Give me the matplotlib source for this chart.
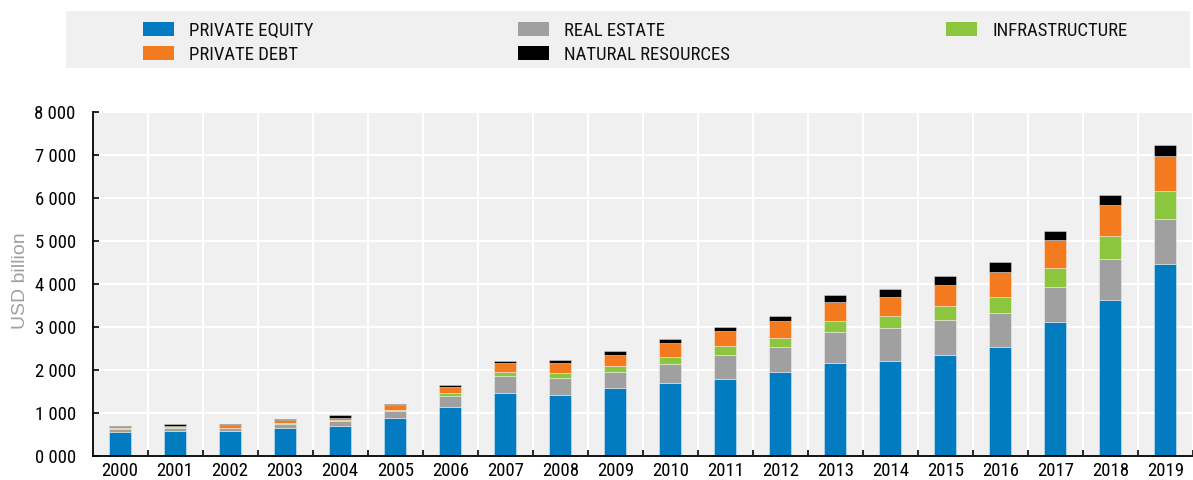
import matplotlib
matplotlib.use("Agg")
import matplotlib.pyplot as plt
from matplotlib import font_manager
from matplotlib.patches import Rectangle
import numpy as np

years = [str(y) for y in range(2000, 2020)]
private_equity = [561, 577, 577, 647, 693, 879, 1142, 1460, 1413, 1576, 1700, 1785, 1947, 2168, 2214, 2354, 2540, 3120, 3631, 4468]
real_estate = [70, 77, 72, 100, 116, 170, 263, 402, 395, 379, 441, 565, 589, 705, 752, 805, 789, 821, 953, 1053]
infrastructure = [12, 10, 8, 15, 23, 23, 55, 101, 116, 139, 170, 209, 217, 271, 286, 318, 380, 442, 526, 635]
private_debt = [30, 45, 70, 78, 62, 109, 147, 201, 232, 264, 318, 341, 387, 441, 449, 511, 573, 634, 736, 828]
natural_resources = [25, 30, 12, 16, 55, 23, 46, 54, 86, 77, 93, 108, 124, 163, 178, 193, 224, 217, 224, 240]

series_names = ["PRIVATE EQUITY", "REAL ESTATE", "INFRASTRUCTURE", "PRIVATE DEBT", "NATURAL RESOURCES"]
series_values = [private_equity, real_estate, infrastructure, private_debt, natural_resources]
series_colors = ["#037bc1", "#a0a0a0", "#8cc63f", "#f47a20", "#000000"]
ytick_values = [0, 1000, 2000, 3000, 4000, 5000, 6000, 7000, 8000]
ytick_labels = ["0 000", "1 000", "2 000", "3 000", "4 000", "5 000", "6 000", "7 000", "8 000"]

names = {f.name for f in font_manager.fontManager.ttflist}
narrow_fams = [n for n in ["Liberation Sans Narrow", "Roboto Condensed", "Arimo", "Liberation Sans"] if n in names]
narrow_fams.append("DejaVu Sans")
fs = 13.5 if narrow_fams[0] != "Liberation Sans" else 11.5
plt.rcParams["font.family"] = narrow_fams

W, H = 1193, 480
fig = plt.figure(figsize=(W / 100, H / 100), dpi=100)
fig.patch.set_facecolor("white")

ax = fig.add_axes([92.5 / W, 1 - 456 / H, 1 - 92.5 / W, 344 / H])
ax.set_facecolor("#f0f0f0")

x = np.arange(len(years))
bottom = np.zeros(len(years))
for name, vals, col in zip(series_names, series_values, series_colors):
    v = np.array(vals, dtype=float)
    ax.bar(x, v, width=0.4, bottom=bottom, color=col, edgecolor=(1, 1, 1, 0.45),
           linewidth=0.6, zorder=3)
    bottom += v

ax.set_xlim(-0.5, 19.3)
ax.set_ylim(0, 8000)
ax.set_xticks(x)
ax.set_xticklabels(years, fontsize=fs)
ax.set_xticks(np.arange(len(years)) + 0.5, minor=True)
ax.set_yticks(ytick_values)
ax.set_yticklabels(ytick_labels, fontsize=fs)
ax.tick_params(axis="x", which="major", length=0, pad=4)
ax.tick_params(axis="x", which="minor", direction="in", length=4, width=1.2, color="black")
ax.tick_params(axis="y", direction="in", length=4, width=1.2, color="black", pad=12)
ax.grid(True, axis="y", which="major", color="white", linewidth=1.5, zorder=0)
ax.grid(True, axis="x", which="minor", color="white", linewidth=1.5, zorder=0)
ax.grid(False, axis="x", which="major")
for s in ["top", "right"]:
    ax.spines[s].set_visible(False)
for s in ["left", "bottom"]:
    ax.spines[s].set_color("black")
    ax.spines[s].set_linewidth(1.3)
    ax.spines[s].set_zorder(4)

fig.text(21 / W, 1 - 281 / H, "USD billion", rotation=90, ha="center", va="center",
         fontsize=14, color="#a0a0a0", family=["Liberation Sans", "DejaVu Sans"])

# legend box
fig.patches.append(Rectangle((66 / W, 1 - 68 / H), (1190 - 66) / W, 57 / H,
                             transform=fig.transFigure, facecolor="#f0f0f0",
                             edgecolor="none", zorder=0))
legend_pos = {
    "PRIVATE EQUITY": (143, 22),
    "PRIVATE DEBT": (143, 46),
    "REAL ESTATE": (518, 22),
    "NATURAL RESOURCES": (518, 46),
    "INFRASTRUCTURE": (946, 22),
}
for name, col in zip(series_names, series_colors):
    px, py = legend_pos[name]
    fig.patches.append(Rectangle((px / W, 1 - (py + 14) / H), 31 / W, 14 / H,
                                 transform=fig.transFigure, facecolor=col,
                                 edgecolor="none", zorder=1))
    fig.text((px + 46) / W, 1 - (py + 9) / H, name, ha="left", va="center",
             fontsize=fs, color="#111111")

fig.savefig("out.png", dpi=100, facecolor="white")
